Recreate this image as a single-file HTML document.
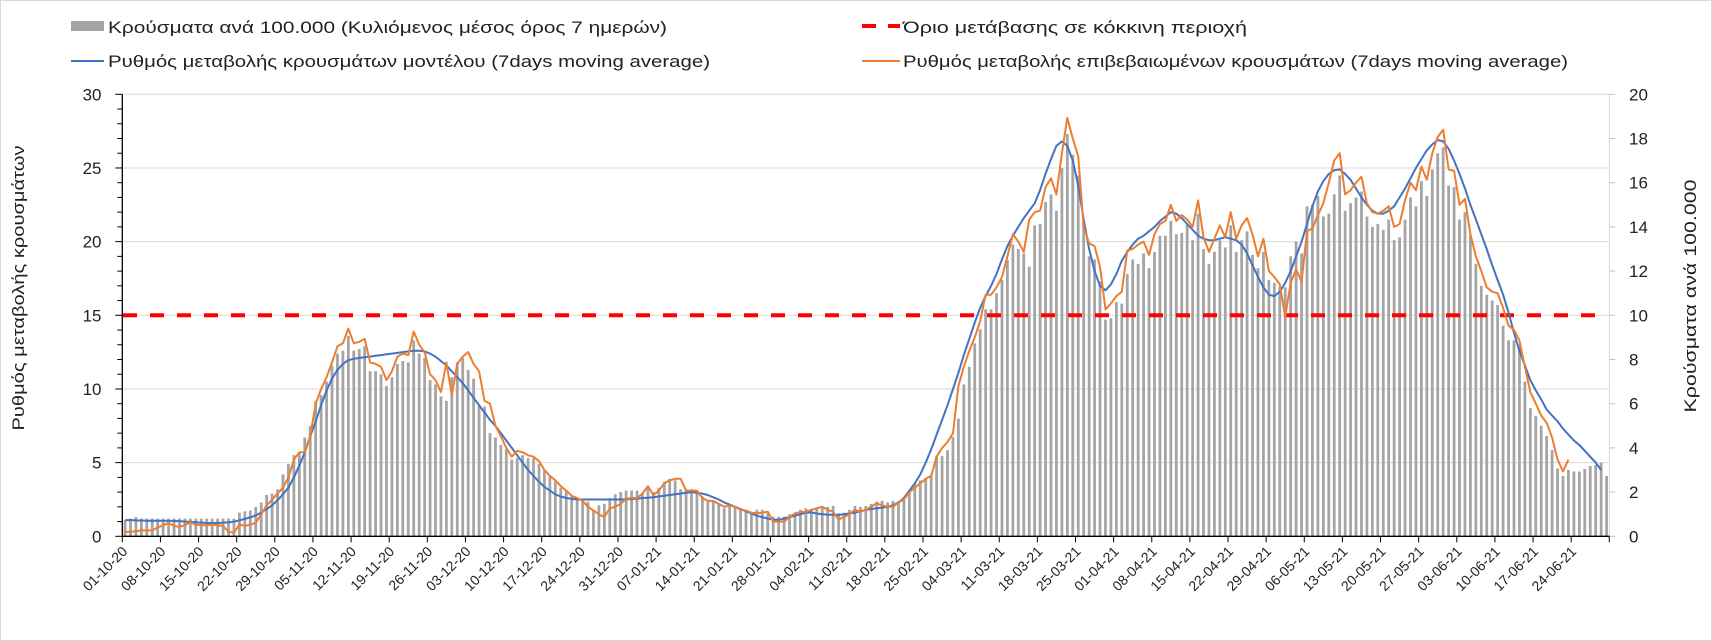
<!DOCTYPE html>
<html><head><meta charset="utf-8">
<style>
html,body{margin:0;padding:0;background:#fff;}
svg{display:block;font-family:"Liberation Sans",Arial,sans-serif;}
</style></head>
<body>
<svg id="chart" width="1712" height="641" viewBox="0 0 1712 641">
<rect x="0.5" y="0.5" width="1711" height="640" fill="#fff" stroke="#d9d9d9"/>
<g id="legend">
  <g>
    <rect x="71" y="21" width="33" height="10" fill="#a5a5a5"/>
    <text x="108" y="33" font-size="17" fill="#222" textLength="559" lengthAdjust="spacingAndGlyphs">Κρούσματα ανά 100.000 (Κυλιόμενος μέσος όρος 7 ημερών)</text>
  </g>
  <g>
    <line x1="71" y1="61" x2="104" y2="61" stroke="#4472c4" stroke-width="2"/>
    <text x="108" y="67" font-size="17" fill="#222" textLength="602" lengthAdjust="spacingAndGlyphs">Ρυθμός μεταβολής κρουσμάτων μοντέλου (7days moving average)</text>
  </g>
  <g>
    <line x1="862" y1="26" x2="900" y2="26" stroke="#ff0000" stroke-width="4" stroke-dasharray="14,12"/>
    <text x="903" y="33" font-size="17" fill="#222" textLength="344" lengthAdjust="spacingAndGlyphs">Όριο μετάβασης σε κόκκινη περιοχή</text>
  </g>
  <g>
    <line x1="862" y1="61" x2="900" y2="61" stroke="#ed7d31" stroke-width="2"/>
    <text x="903" y="67" font-size="17" fill="#222" textLength="665" lengthAdjust="spacingAndGlyphs">Ρυθμός μεταβολής επιβεβαιωμένων κρουσμάτων (7days moving average)</text>
  </g>
</g>
<text x="0" y="0" font-size="17" fill="#222" text-anchor="middle" textLength="285" lengthAdjust="spacingAndGlyphs" transform="translate(24,288) rotate(-90)">Ρυθμός μεταβολής κρουσμάτων</text>
<text x="0" y="0" font-size="17" fill="#222" text-anchor="middle" textLength="233" lengthAdjust="spacingAndGlyphs" transform="translate(1696,296) rotate(-90)">Κρούσματα ανά 100.000</text>
<g id="grid"></g><g id="bars"></g><g id="thr"></g><g id="lines"></g><g id="axes"></g>
</svg>
<script>
const tickLabels=["01-10-20","08-10-20","15-10-20","22-10-20","29-10-20","05-11-20","12-11-20","19-11-20","26-11-20","03-12-20","10-12-20","17-12-20","24-12-20","31-12-20","07-01-21","14-01-21","21-01-21","28-01-21","04-02-21","11-02-21","18-02-21","25-02-21","04-03-21","11-03-21","18-03-21","25-03-21","01-04-21","08-04-21","15-04-21","22-04-21","29-04-21","06-05-21","13-05-21","20-05-21","27-05-21","03-06-21","10-06-21","17-06-21","24-06-21"];
const leftTicks=[0,5,10,15,20,25,30];
const rightTicks=[0,2,4,6,8,10,12,14,16,18,20];
const threshold=15;
const cases=[0.73,0.8,0.87,0.8,0.8,0.8,0.8,0.8,0.8,0.8,0.8,0.8,0.8,0.8,0.8,0.8,0.8,0.8,0.8,0.8,0.8,1.07,1.13,1.17,1.33,1.53,1.87,1.93,2.13,2.8,3.27,3.67,3.8,4.47,5.0,6.13,6.4,7.0,7.73,8.27,8.4,9.07,8.4,8.47,8.6,7.47,7.47,7.33,6.8,7.2,7.8,7.93,7.87,8.87,8.27,8.07,7.07,6.87,6.33,6.13,7.2,7.87,8.07,7.53,7.13,5.93,5.87,4.67,4.47,4.13,3.93,3.47,3.53,3.67,3.53,3.53,3.27,3.0,2.7,2.47,2.2,2.07,1.8,1.73,1.6,1.57,1.2,1.4,1.47,1.73,1.9,2.0,2.07,2.07,2.07,1.93,2.27,2.0,2.2,2.47,2.6,2.53,2.13,2.13,2.13,2.07,1.8,1.6,1.6,1.49,1.27,1.4,1.33,1.2,1.11,1.04,1.2,1.2,1.04,0.89,0.89,0.9,1.0,1.07,1.2,1.27,1.22,1.31,1.37,1.33,1.37,1.04,1.07,1.2,1.37,1.33,1.37,1.47,1.57,1.6,1.53,1.6,1.6,1.73,1.97,2.37,2.53,2.6,2.77,3.63,3.63,3.9,4.5,5.33,6.87,7.67,8.73,9.37,10.27,10.27,11.0,11.6,12.5,13.2,13.0,12.8,12.2,14.07,14.13,15.13,15.47,14.73,16.67,18.2,17.27,16.33,14.27,12.67,12.53,11.53,9.8,9.87,10.6,10.53,11.87,12.53,12.33,12.8,12.13,12.87,13.6,13.6,14.27,13.67,13.73,14.13,13.4,14.6,13.0,12.33,12.87,13.4,13.07,14.07,12.87,13.4,13.8,12.73,12.13,12.87,11.6,11.47,11.27,11.27,12.67,13.33,12.8,14.93,15.0,15.4,14.47,14.6,15.47,16.33,14.73,15.07,15.33,15.6,14.47,14.0,14.13,13.87,14.33,13.4,13.53,14.33,15.33,14.93,16.07,15.4,16.6,17.33,17.6,15.87,15.8,14.33,14.67,13.6,12.33,11.33,10.93,10.67,10.47,9.53,8.87,8.87,8.67,7.0,5.8,5.45,5.0,4.54,3.9,3.07,2.73,3.0,2.93,2.93,3.05,3.18,3.23,3.33,2.73];
const modelRate=[1.1,1.1,1.08,1.07,1.06,1.05,1.05,1.05,1.05,1.04,1.03,1.0,0.98,0.96,0.93,0.9,0.9,0.9,0.92,0.95,1.0,1.08,1.18,1.28,1.42,1.6,1.85,2.1,2.45,2.85,3.3,4.0,4.8,5.7,6.8,7.8,8.9,9.9,10.7,11.3,11.7,11.95,12.05,12.1,12.15,12.2,12.25,12.3,12.35,12.4,12.45,12.5,12.55,12.6,12.6,12.55,12.4,12.2,11.9,11.6,11.2,10.8,10.4,9.9,9.4,8.9,8.4,7.9,7.5,7.0,6.5,6.0,5.5,5.0,4.5,4.1,3.7,3.35,3.1,2.85,2.7,2.6,2.55,2.5,2.5,2.5,2.5,2.5,2.5,2.5,2.5,2.5,2.52,2.53,2.55,2.6,2.62,2.65,2.7,2.75,2.8,2.85,2.9,2.95,3.0,2.95,2.9,2.8,2.65,2.5,2.3,2.15,2.0,1.85,1.7,1.55,1.4,1.3,1.2,1.12,1.12,1.2,1.3,1.4,1.5,1.6,1.62,1.55,1.5,1.47,1.45,1.45,1.5,1.55,1.6,1.7,1.8,1.85,1.9,1.95,2.0,2.1,2.3,2.6,3.1,3.6,4.2,5.0,5.9,6.9,7.9,8.9,10.0,11.1,12.3,13.4,14.5,15.5,16.3,17.0,17.8,18.8,19.7,20.4,21.0,21.6,22.1,22.6,23.5,24.6,25.6,26.5,26.8,26.5,25.5,23.8,21.5,19.5,18.0,17.0,16.7,17.1,17.8,18.7,19.3,19.8,20.2,20.4,20.7,21.0,21.4,21.7,22.0,21.9,21.6,21.2,20.8,20.4,20.2,20.1,20.1,20.2,20.3,20.2,20.1,19.8,19.2,18.4,17.6,16.9,16.4,16.3,16.6,17.2,18.0,19.0,20.0,21.2,22.4,23.4,24.1,24.6,24.85,24.9,24.6,24.2,23.6,23.0,22.5,22.1,21.9,21.9,22.1,22.4,23.0,23.6,24.3,25.0,25.6,26.2,26.6,26.9,26.8,26.3,25.5,24.6,23.6,22.5,21.5,20.5,19.5,18.4,17.4,16.4,15.2,13.8,12.6,11.6,10.6,9.9,9.3,8.6,8.2,7.8,7.3,6.9,6.5,6.2,5.8,5.4,5.0,4.5];
const confirmedRate=[0.3,0.3,0.35,0.4,0.4,0.4,0.6,0.75,0.9,0.7,0.65,0.75,0.95,0.8,0.75,0.75,0.8,0.75,0.7,0.3,0.25,0.8,0.7,0.8,0.9,1.5,2.1,2.5,2.9,3.3,4.0,5.2,5.7,5.7,6.8,9.0,10.0,10.8,11.8,12.9,13.1,14.1,13.1,13.2,13.4,11.8,11.7,11.5,10.6,11.2,12.2,12.4,12.3,13.9,13.0,12.5,11.0,10.6,9.8,11.8,9.6,11.7,12.2,12.5,11.7,11.2,9.2,9.0,7.5,6.8,6.0,5.4,5.8,5.7,5.5,5.4,5.1,4.5,4.1,3.8,3.4,3.1,2.75,2.6,2.4,2.0,1.75,1.5,1.3,1.9,2.0,2.2,2.55,2.6,2.6,2.9,3.4,2.8,3.1,3.6,3.8,3.9,3.9,3.1,3.1,3.1,2.6,2.4,2.4,2.2,2.0,2.1,2.0,1.8,1.75,1.6,1.56,1.6,1.67,1.0,1.0,1.0,1.3,1.56,1.65,1.67,1.8,1.9,2.0,1.8,1.67,1.15,1.3,1.5,1.8,1.67,1.8,2.0,2.24,2.1,2.0,2.0,2.3,2.5,3.0,3.3,3.6,3.9,4.1,5.4,6.0,6.4,7.0,10.2,11.5,12.6,13.5,14.6,16.4,16.4,16.9,17.6,19.0,20.5,20.0,19.3,21.5,22.0,22.1,23.7,24.3,23.2,26.0,28.4,27.0,25.8,21.0,19.9,19.7,18.3,15.4,15.8,16.3,16.6,19.4,19.5,19.8,20.0,19.1,20.5,21.2,21.4,22.5,21.4,21.8,21.5,21.0,22.8,20.3,19.3,20.2,21.1,20.3,22.0,20.2,21.1,21.6,20.5,19.0,20.2,18.0,17.6,17.1,14.9,17.2,18.1,17.3,20.7,20.9,21.8,22.6,24.0,25.5,26.0,23.2,23.5,24.0,24.4,22.6,22.0,21.9,22.1,22.4,21.0,21.2,22.8,24.0,23.5,25.1,24.2,26.0,27.1,27.6,24.9,24.8,22.5,22.9,20.5,19.0,18.0,16.9,16.6,16.5,15.5,14.3,14.0,13.3,11.5,9.8,9.0,8.2,7.7,6.7,5.2,4.4,5.2];

const NS="http://www.w3.org/2000/svg";
const L=122.3,R=1609.3,T=94.3,B=536.3;
const N=cases.length;
const bw=(R-L)/N;
const xc=i=>L+(i+0.5)*bw;
const yL=v=>B-(v/30)*(B-T);
const yR=v=>B-(v/20)*(B-T);
function mk(tag,attrs,parent){const e=document.createElementNS(NS,tag);for(const k in attrs)e.setAttribute(k,attrs[k]);parent.appendChild(e);return e;}
const grid=document.getElementById('grid'),bars=document.getElementById('bars'),thr=document.getElementById('thr'),lines=document.getElementById('lines'),axes=document.getElementById('axes');
leftTicks.forEach(v=>{
  if(v>0){const g=mk('line',{x1:L,x2:R,y1:yL(v),y2:yL(v),stroke:'#d9d9d9','stroke-width':1},grid);
  
  }
  const t=mk('text',{x:101.5,y:yL(v)+6,'font-size':17,'text-anchor':'end',fill:'#222'},axes);
  t.textContent=v;
  
  
});
for(let v=0;v<=30;v++){mk('line',{x1:L-(v%5===0?7:5),x2:L,y1:yL(v),y2:yL(v),stroke:'#000','stroke-width':1},axes);}
rightTicks.forEach(v=>{
  mk('line',{x1:R,x2:R+6,y1:yR(v),y2:yR(v),stroke:'#bfbfbf','stroke-width':1},axes);
  const t=mk('text',{x:1629,y:yR(v)+6,'font-size':17,fill:'#222'},axes);
  t.textContent=v;
  
  
});
cases.forEach((v,i)=>{
  const r=mk('rect',{x:xc(i)-1.4,y:yR(v),width:2.8,height:B-yR(v),fill:'#a5a5a5'},bars);
  
  
});
const th=mk('line',{x1:123,x2:1596,y1:yL(threshold),y2:yL(threshold),stroke:'#ff0000','stroke-width':4,'stroke-dasharray':'14,13'},thr);


function path(arr){let d='';arr.forEach((v,i)=>{if(v==null)return;d+=(d?'L':'M')+xc(i).toFixed(1)+','+yL(v).toFixed(1);});return d;}
const bl=mk('path',{d:path(modelRate),fill:'none',stroke:'#4472c4','stroke-width':2,'stroke-linejoin':'round'},lines);


const ol=mk('path',{d:path(confirmedRate),fill:'none',stroke:'#ed7d31','stroke-width':2,'stroke-linejoin':'round'},lines);


mk('line',{x1:L,x2:L,y1:T,y2:B,stroke:'#000','stroke-width':1.3},axes);
mk('line',{x1:R,x2:R,y1:T,y2:B,stroke:'#d9d9d9','stroke-width':1},axes);
mk('line',{x1:L,x2:R,y1:B,y2:B,stroke:'#000','stroke-width':1.3},axes);
tickLabels.forEach((s,k)=>{
  const x=L+k*7*bw;
  mk('line',{x1:x,x2:x,y1:B,y2:B+6,stroke:'#000','stroke-width':1},axes);
  const t=mk('text',{x:x+6,y:B+16,'font-size':14,'text-anchor':'end',fill:'#222',transform:'rotate(-45 '+(x+6)+' '+(B+16)+')'},axes);
  t.textContent=s;
  
  
});
mk('line',{x1:R,x2:R,y1:B,y2:B+6,stroke:'#000','stroke-width':1},axes);
</script>
</body></html>
